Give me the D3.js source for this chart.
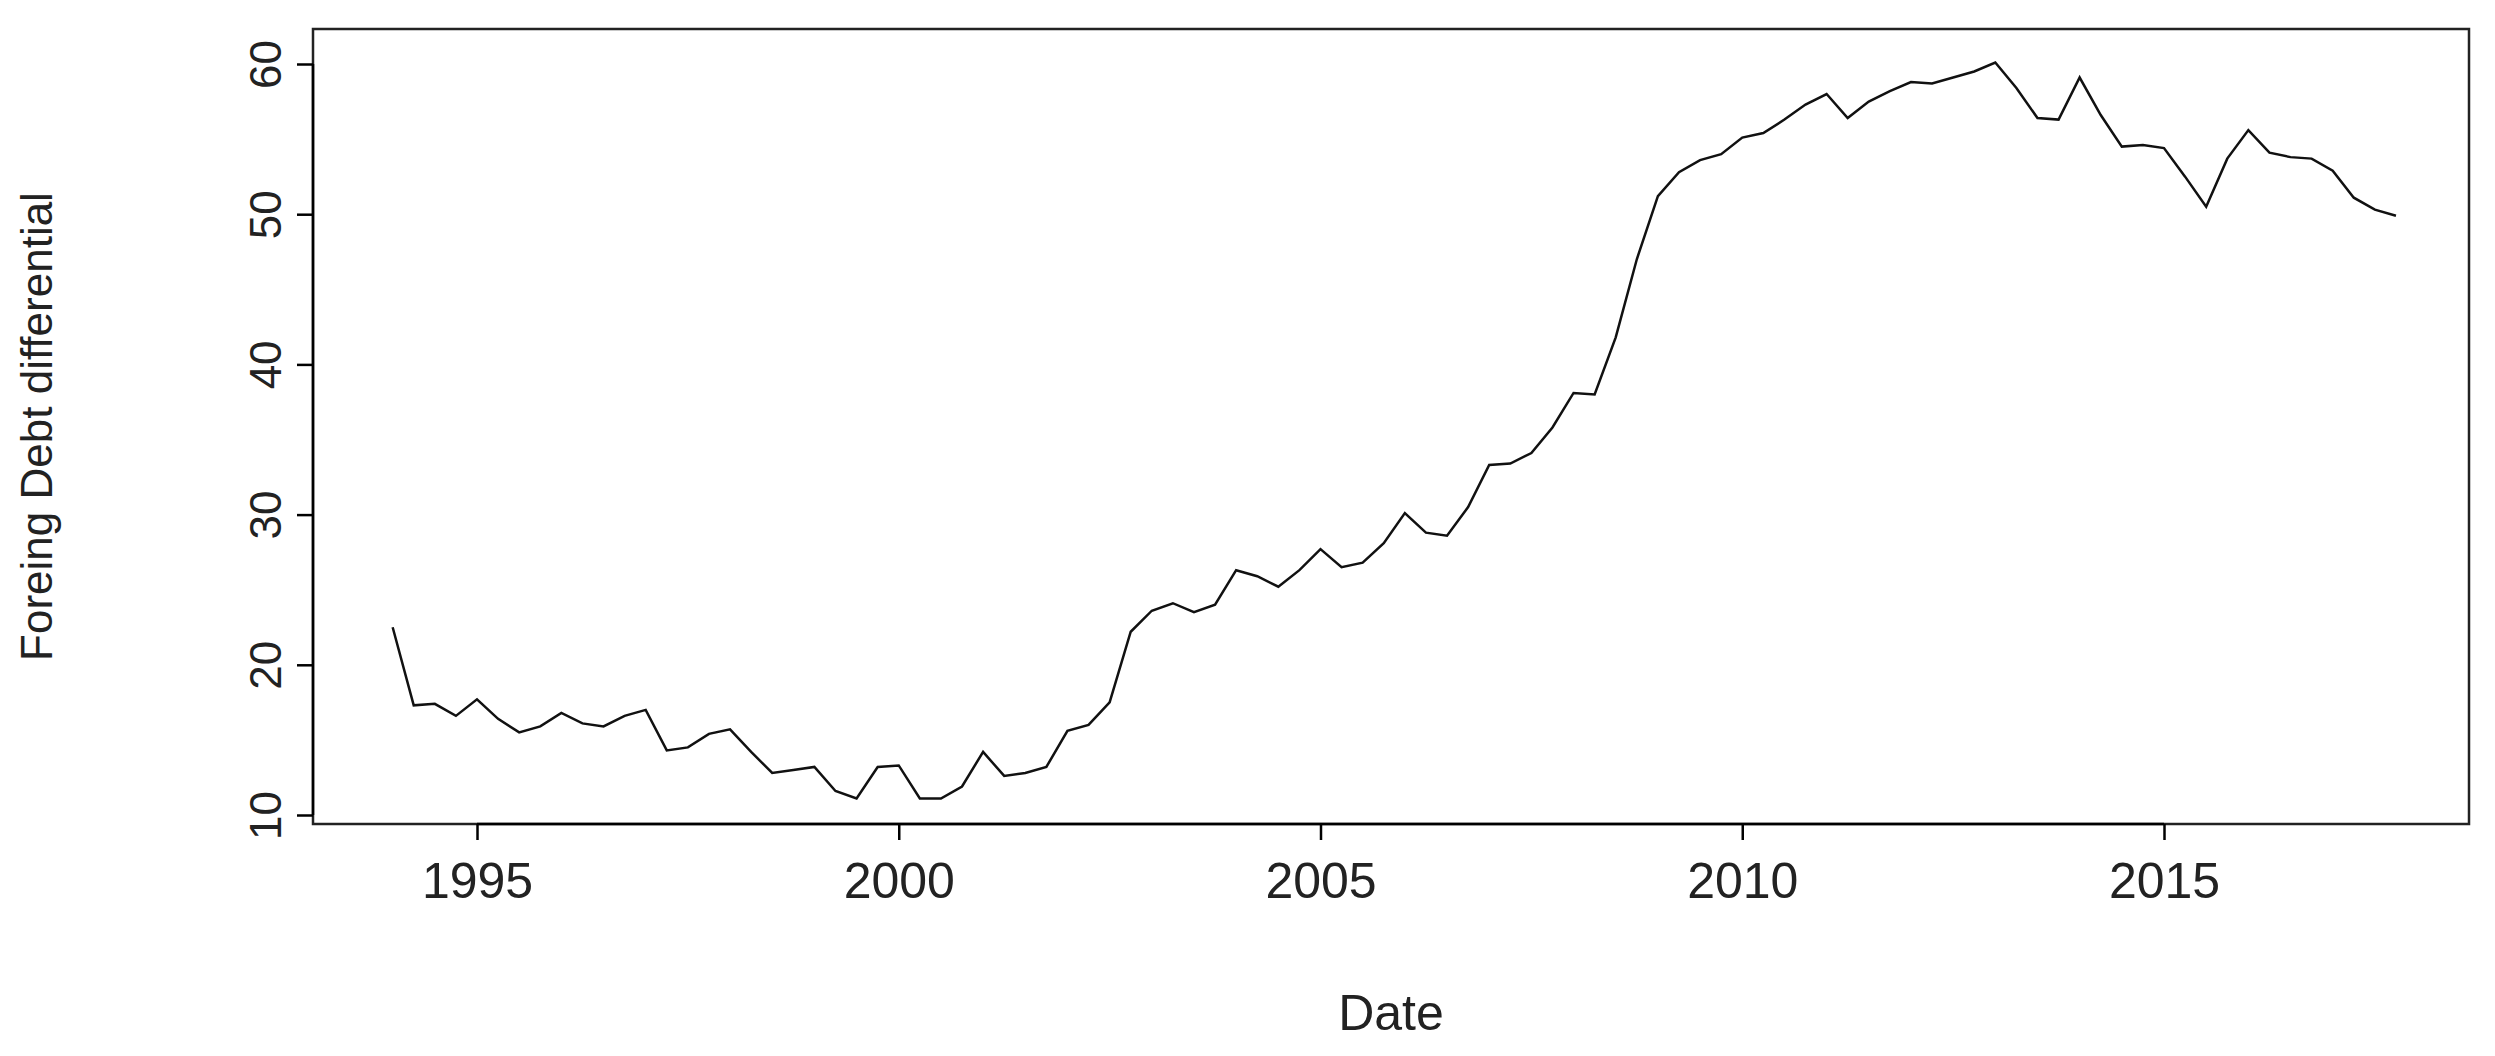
<!DOCTYPE html>
<html><head><meta charset="utf-8">
<script src="https://cdn.jsdelivr.net/npm/d3@7"></script>
<style>body{margin:0;background:#fff}text{font-family:"Liberation Sans",Arial,sans-serif;fill:#222}</style>
</head><body><div id="chart"></div>
<script>
const startYear = 1994; // quarterly series
const values = [22.5,17.3,17.4,16.6,17.7,16.4,15.5,15.9,16.8,16.1,15.9,16.6,17.0,14.3,14.5,15.4,
  15.7,14.2,12.8,13.0,13.2,11.6,11.1,13.2,13.3,11.1,11.1,11.9,14.2,12.6,12.8,13.2,
  15.6,16.0,17.5,22.2,23.6,24.1,23.5,24.0,26.3,25.9,25.2,26.3,27.7,26.5,26.8,28.1,
  30.1,28.8,28.6,30.5,33.3,33.4,34.1,35.8,38.1,38.0,41.8,47.0,51.2,52.8,53.6,54.0,
  55.1,55.4,56.3,57.3,58.0,56.4,57.5,58.2,58.8,58.7,59.1,59.5,60.1,58.4,56.4,56.3,
  59.1,56.6,54.5,54.6,54.4,52.5,50.5,53.7,55.6,54.1,53.8,53.7,52.9,51.1,50.3,49.9];
const xTicks = [1995,2000,2005,2010,2015];
const yTicks = [10,20,30,40,50,60];

const W = 2495, H = 1056;
const box = {left:313, right:2469, top:29, bottom:824};
const svg = d3.select("#chart").append("svg").attr("width",W).attr("height",H);

// scales fitted so 1995 -> 477, 2015 -> 2164 and 10 -> 815, 60 -> 64
const x = d3.scaleLinear([1995,2015],[477,2164]);
const y = d3.scaleLinear([10,60],[815,64]);

svg.append("rect").attr("x",box.left).attr("y",box.top)
  .attr("width",box.right-box.left).attr("height",box.bottom-box.top)
  .attr("fill","none").attr("stroke","#222").attr("stroke-width",2.5);

const xa = svg.append("g").attr("transform",`translate(0,${box.bottom})`)
  .call(d3.axisBottom(x).tickValues(xTicks).tickFormat(d3.format("d")).tickSize(16).tickPadding(22));
xa.select(".domain").attr("d",`M${x(1995)},0H${x(2015)}`).attr("stroke-width",2.5);
xa.selectAll("line").attr("stroke-width",2.5);
xa.selectAll("text").attr("font-size",50).attr("fill","#222");

const ya = svg.append("g").attr("transform",`translate(${box.left},0)`)
  .call(d3.axisLeft(y).tickValues(yTicks).tickSize(16));
ya.select(".domain").attr("d",`M0,${y(10)}V${y(60)}`).attr("stroke-width",2.5);
ya.selectAll("line").attr("stroke-width",2.5);
ya.selectAll("text").attr("font-size",44).attr("fill","#222")
  .attr("transform","rotate(-90)").attr("x",0).attr("y",-32).attr("dy","0")
  .attr("text-anchor","middle");

svg.append("text").attr("x",(box.left+box.right)/2).attr("y",1030)
  .attr("text-anchor","middle").attr("font-size",50).text("Date");
svg.append("text").attr("transform",`translate(52,${(box.top+box.bottom)/2}) rotate(-90)`)
  .attr("text-anchor","middle").attr("font-size",44).text("Foreing Debt differential");

const line = d3.line().x((d,i)=>x(startYear+i/4)).y(d=>y(d));
svg.append("path").datum(values).attr("d",line)
  .attr("fill","none").attr("stroke","#111").attr("stroke-width",2.5);
</script></body></html>
